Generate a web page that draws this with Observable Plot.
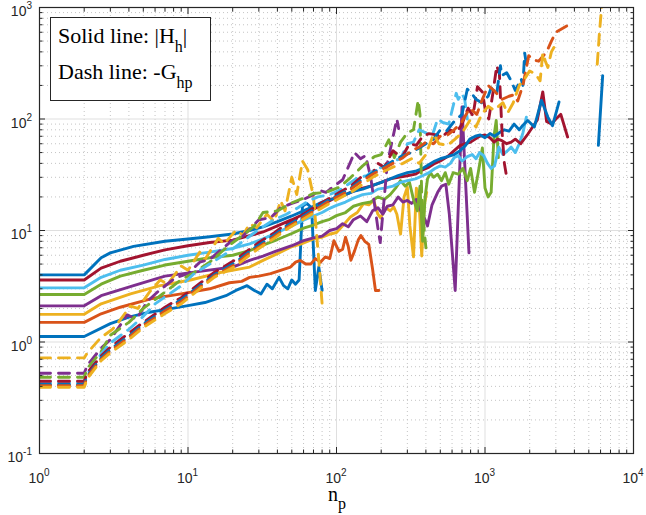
<!DOCTYPE html>
<html><head><meta charset="utf-8">
<script src="https://cdn.jsdelivr.net/npm/d3@7"></script>
<script src="https://cdn.jsdelivr.net/npm/@observablehq/plot@0.6"></script>
<style>body{margin:0;background:#fff}</style>
</head><body><div id="chart"></div>
<script>
const xMajor = [1, 10, 100, 1000, 10000];
const yMajor = [0.1, 1, 10, 100, 1000];
const xExp = ["0", "1", "2", "3", "4"];
const yExp = ["-1", "0", "1", "2", "3"];
const legendLines = [["Solid line: |H", "h", "|"], ["Dash line: -G", "hp", ""]];
const xLabel = ["n", "p"];
const colors = ["#0072BD", "#D95319", "#EDB120", "#7E2F8E", "#77AC30", "#4DBEEE", "#A2142F"];

// solid lines |H_h|
const solid1 = [[1,1.12],[2,1.12],[3,1.46],[4,1.67],[5.5,1.85],[7.5,1.98],[10,2.12],[13,2.26],[18,2.6],[21,2.9],[25,3.2],[28,2.9],[31,2.7],[34,3.3],[37,3.0],[41,3.8],[44,3.2],[47,3.0],[50,3.6],[53,3.3],[56,3.6],[59,16.5],[63,17.5],[68,16],[72,2.9],[76,4.7],[80,2.9]];
const solid2 = [[1,1.5],[2,1.5],[2.6,1.79],[3.5,2.05],[5.6,2.44],[9,2.7],[14,3.0],[19,3.4],[23,3.5],[26,3.8],[30,3.9],[36,4.1],[42,4.4],[49,4.7],[53,5.2],[57,5.4],[62,5.0],[67,5.0],[72,5.6],[78,5.2],[84,5.8],[90,5.6],[96,8.1],[104,6.5],[110,6.8],[115,8.7],[120,7.2],[125,5.4],[132,6.5],[140,8.2],[146,9.0],[155,8.0],[165,7.5],[175,4.5],[183,2.9],[193,2.9]];
const solid3 = [[1,1.77],[2,1.77],[2.6,2.2],[4.1,2.7],[6.5,3.2],[10.4,3.6],[16.5,4.2],[22,4.5],[26,4.7],[32,5.4],[40,6.2],[49,7.1],[58,7.6],[70,8.4],[80,8.7],[91,9.3],[100,9.6],[110,11],[124,13.2],[138,14.5],[152,17.4],[165,17],[178,18.6],[190,14],[198,13],[215,16],[230,15],[243,16.3],[255,14],[270,9.3],[285,20],[300,24.5],[312,11],[330,5.8],[345,24],[360,18],[375,5.9],[390,17],[405,22]];
const solid4 = [[1,2.11],[2,2.11],[2.6,2.6],[4.3,3.2],[7,3.9],[12,4.3],[20,4.7],[26,5.4],[32,5.9],[40,6.6],[50,7.3],[60,8.1],[70,8.6],[80,8.9],[90,10],[100,10.4],[110,11.5],[120,10.8],[130,12.5],[145,13.5],[160,12],[175,15],[190,16],[205,14],[220,16.5],[240,17],[260,20],[280,18],[300,18.6],[320,17.5],[345,19],[370,15],[390,13],[410,11],[440,17],[480,22],[510,25],[545,26],[575,14],[630,2.9],[700,128],[780,6.3]];
const solid5 = [[1,2.67],[2,2.67],[2.6,3.3],[3.5,3.9],[5,4.4],[7,4.9],[10,5.3],[14,5.7],[20,6.0],[26,6.6],[32,7.4],[40,8.3],[50,9.4],[60,10.5],[70,11.2],[80,12],[90,12.6],[100,13.6],[115,14.5],[130,16.5],[150,17.5],[170,18],[190,20],[210,19],[230,21],[250,24],[270,28],[290,25],[310,27],[330,19],[350,15],[365,25],[380,8],[395,20],[410,29],[430,33],[450,30],[480,32],[510,28],[540,33],[570,26],[610,33],[660,32],[710,36],[760,28],[800,36],[850,22],[900,33],[960,55],[1000,24],[1050,20],[1100,22],[1150,70],[1190,97],[1230,45]];
const solid6 = [[1,3.06],[2,3.06],[2.6,3.8],[3.5,4.4],[5,4.9],[7,5.5],[10,6.0],[14,6.4],[20,6.9],[26,7.6],[32,8.4],[40,9.6],[50,11],[60,12.4],[70,13.5],[80,14.5],[90,15.8],[100,16.8],[115,18],[130,19.5],[150,21],[170,21.5],[190,23.5],[210,24],[240,25],[270,27],[300,28],[340,29],[380,31],[420,33],[460,36],[500,38],[540,37],[585,40],[620,45],[660,47],[700,42],[760,46],[820,48],[870,44],[920,50],[980,47],[1040,40],[1100,36],[1160,38],[1240,56],[1320,48],[1420,52],[1500,56],[1600,50],[1700,60],[1800,75],[1900,104]];
const solid7 = [[1,3.6],[2,3.6],[2.6,4.6],[3.5,5.3],[5,6.0],[7,6.7],[10,7.3],[14,7.8],[20,8.2],[26,9.0],[32,9.7],[40,11],[50,12.5],[60,14],[70,15.5],[80,17],[90,18.5],[100,20],[115,21],[130,22.5],[150,24],[170,25],[200,27],[230,29],[260,30],[300,31],[340,32],[380,35],[420,37],[460,40],[500,42],[560,46],[620,52],[680,58],[740,60],[800,62],[860,66],[920,70],[1000,72],[1080,68],[1150,62],[1220,66],[1300,64],[1400,60],[1500,62],[1600,66],[1740,60],[1940,73],[2250,98],[2450,175],[2600,95],[2800,90],[3000,100],[3240,110],[3600,69]];
const solid8 = [[1,4.0],[2,4.0],[2.6,5.7],[3,6.3],[4.3,7.2],[7,8.0],[10,8.4],[14,8.8],[20,9.3],[26,10],[32,10.8],[40,12],[50,13.5],[60,15],[70,16.5],[80,18],[90,19],[100,19.5],[115,21],[130,22.5],[150,23.5],[170,25],[200,27],[230,29],[260,31],[300,33],[340,34],[380,36],[420,39],[460,42],[500,44],[560,46],[620,48],[680,52],[740,58],[790,66],[860,70],[930,72],[1000,68],[1080,74],[1160,70],[1260,76],[1350,80],[1450,78],[1570,90],[1700,80],[1800,88],[1940,97],[2150,85],[2400,147],[2650,104],[2850,87],[3150,142],[4500,NaN],[5800,58],[6200,245]];

// dashed lines -G_hp
const dash1 = [[1,0.72],[2,0.72],[2.1,0.8],[2.6,1.1],[3.1,1.3],[3.4,1.5],[4.1,2.1],[4.6,2.0],[5.5,2.8],[6.5,3.6],[7.3,3.3],[9,4.8],[10,4.4],[12,6.4],[13,5.5],[16,8.5],[17.5,7.6],[21,10],[23.5,9.1],[26,11.5],[29,10.6],[34,14],[38,12],[42,18.5],[45,15],[50,30],[54,21],[59,42],[64,35],[70,20],[76,5.4],[80,2.2]];
const dash2 = [[1,0.525],[2,0.525],[2.1,0.62],[2.6,0.88],[3,1.05],[3.9,1.75],[4.5,1.6],[5.3,2.3],[6.4,2.9],[8.2,3.75],[10,4.1],[12,5.2],[14,5.5],[19.5,8],[23,8.7],[30,12.5],[36,13],[42,16],[50,17.5],[60,19],[70,21],[76,23],[85,22],[100,26],[110,28.5],[125,42],[132,50],[145,44],[157,47],[170,30],[190,10.5],[197,7.8],[220,40],[255,100],[262,82]];
const dash3 = [[1,0.483],[2,0.483],[2.1,0.58],[2.6,0.82],[3,1.15],[4,1.5],[5,2.0],[6.5,2.6],[8.7,3.5],[11,4.2],[14,5.2],[18.5,7.2],[24,9.3],[28,11],[32,14.5],[40,15],[49,17.5],[60,19.5],[70,21.5],[85,22],[105,24.5],[125,30],[150,38],[180,46],[200,48],[225,65],[245,45],[270,62],[300,75],[330,80],[355,147],[365,110],[375,20],[390,10],[400,7]];
const dash4 = [[1,0.433],[2,0.433],[2.1,0.52],[2.6,0.78],[3,0.98],[4,1.3],[5,1.7],[6,2.2],[7.5,2.7],[9,3.2],[11,4.1],[14,5.0],[19,6.5],[24,8.2],[30,10.2],[38,12.5],[46,14],[55,16],[65,18.5],[75,20],[90,21],[105,23],[120,26],[140,30],[160,31],[185,36],[210,37],[240,42],[270,44],[300,60],[330,62],[360,80],[400,75],[440,70],[480,100],[520,93],[570,90],[640,170],[660,150],[700,170],[730,150],[760,100]];
const dash5 = [[1,0.445],[2,0.445],[2.1,0.53],[2.6,0.75],[3,0.9],[4,1.2],[5,1.5],[7,2.05],[9,2.5],[12,3.35],[15,4.2],[21,5.5],[26,6.8],[30,7.8],[38,9.5],[46,11.5],[55,13],[65,15],[75,17],[90,19.5],[105,22],[125,25],[150,31],[170,30],[190,40],[210,37],[240,52],[275,45],[310,60],[345,58],[380,70],[420,74],[470,72],[520,70],[580,80],[640,75],[700,90],[770,125],[830,107],[890,195],[960,175],[1010,115],[1060,100],[1130,170],[1200,300],[1250,255],[1300,80],[1350,40],[1400,30]];
const dash6 = [[1,0.416],[2,0.416],[2.1,0.5],[2.6,0.72],[3,0.86],[4,1.13],[5,1.45],[7,1.95],[9,2.4],[12,3.2],[15,4.0],[21,5.2],[26,6.5],[30,7.4],[38,9.1],[46,11],[55,12.5],[65,14.5],[75,16.3],[90,19],[105,21],[125,24],[150,29],[175,33],[200,36],[240,42],[280,47],[320,50],[360,55],[400,60],[450,66],[500,80],[550,78],[620,95],[700,110],[760,185],[800,175],[870,150],[950,140],[1050,160],[1100,190],[1200,170],[1270,300],[1300,245],[1400,260],[1500,220],[1600,180],[1750,230],[1800,200],[1850,390],[1900,310]];
const dash7 = [[1,0.405],[2,0.405],[2.1,0.49],[2.6,0.7],[3,0.83],[4,1.1],[5,1.4],[7,1.9],[9,2.3],[12,3.1],[15,3.9],[21,5.0],[26,6.3],[30,7.1],[38,8.8],[46,10.6],[55,12.2],[65,14],[75,15.8],[90,18.5],[105,20.5],[125,23.5],[150,28],[175,32],[200,35],[240,40],[280,45],[320,52],[360,56],[400,62],[450,60],[500,70],[560,72],[620,80],[700,95],[790,125],[880,110],[960,150],[1050,200],[1150,180],[1300,150],[1450,160],[1570,165],[1660,145],[1800,200],[1970,370],[2100,340],[2300,330],[2600,400],[2800,500],[3000,600],[3600,690]];
const dash8 = [[1,0.393],[2,0.393],[2.1,0.47],[2.6,0.68],[3,0.8],[4,1.05],[5,1.35],[7,1.8],[9,2.2],[12,3.0],[15,3.8],[21,4.8],[26,6.0],[30,6.9],[38,8.5],[46,10.2],[55,11.8],[65,13.5],[75,15.2],[90,17.5],[105,19.5],[125,22],[150,26],[175,30],[200,33],[240,37],[280,40],[320,44],[360,40],[400,48],[450,73],[490,60],[560,58],[620,65],[700,75],[790,97],[870,85],[950,110],[1050,130],[1150,120],[1320,140],[1420,113],[1550,140],[1700,200],[1850,230],[2000,270],[2200,250],[2350,220],[2450,390],[2550,330],[2650,290],[2800,400],[3000,470],[3100,440],[4500,NaN],[5700,310],[5900,600],[6200,1300]];

const solids = [[solid1,0],[solid2,1],[solid3,2],[solid4,3],[solid5,4],[solid6,5],[solid7,6],[solid8,0]];
const dashes = [[dash1,2],[dash2,3],[dash3,4],[dash4,5],[dash5,6],[dash6,0],[dash7,1],[dash8,2]];

const xMinor = xMajor.slice(0, -1).flatMap(d => [2,3,4,5,6,7,8,9].map(k => k * d));
const yMinor = yMajor.slice(0, -1).flatMap(d => [2,3,4,5,6,7,8,9].map(k => k * d));

const axisColor = "#262626";
const tickMarks = [];
for (const anchor of ["bottom", "top"]) {
  tickMarks.push(Plot.axisX({anchor, ticks: xMajor, tickSize: -6, tickFormat: () => "", stroke: axisColor, label: null}));
  tickMarks.push(Plot.axisX({anchor, ticks: xMinor, tickSize: -3.5, tickFormat: () => "", stroke: axisColor, label: null}));
}
for (const anchor of ["left", "right"]) {
  tickMarks.push(Plot.axisY({anchor, ticks: yMajor, tickSize: -6, tickFormat: () => "", stroke: axisColor, label: null}));
  tickMarks.push(Plot.axisY({anchor, ticks: yMinor, tickSize: -3.5, tickFormat: () => "", stroke: axisColor, label: null}));
}

const lineMarks = [];
for (const [s, c] of solids) {
  lineMarks.push(Plot.line(s, {x: d => d[0], y: d => d[1], stroke: colors[c], strokeWidth: 2.9, clip: true, strokeLinejoin: "round"}));
}
for (const [s, c] of dashes) {
  lineMarks.push(Plot.line(s, {x: d => d[0], y: d => d[1], stroke: colors[c], strokeWidth: 2.9, strokeDasharray: "11,8", clip: true, strokeLinejoin: "round"}));
}

const chart = Plot.plot({
  width: 646, height: 515,
  marginLeft: 39, marginRight: 13, marginTop: 7, marginBottom: 62,
  x: {type: "log", domain: [1, 10000], axis: null},
  y: {type: "log", domain: [0.1, 1000], axis: null},
  style: {background: "#fff"},
  marks: [
    Plot.ruleX(xMinor, {stroke: "#c4c4c4", strokeWidth: 1, strokeDasharray: "1,3"}),
    Plot.ruleY(yMinor, {stroke: "#c4c4c4", strokeWidth: 1, strokeDasharray: "1,3"}),
    Plot.ruleX(xMajor, {stroke: "#dfdfdf", strokeWidth: 1}),
    Plot.ruleY(yMajor, {stroke: "#dfdfdf", strokeWidth: 1}),
    ...lineMarks,
    ...tickMarks,
    Plot.frame({stroke: axisColor, strokeWidth: 1.2})
  ]
});
document.getElementById("chart").appendChild(chart);

const svg = d3.select(chart);
const sx = chart.scale("x"), sy = chart.scale("y");
const sans = "'Liberation Sans', Arial, Helvetica, sans-serif";
const serif = "'Liberation Serif', 'Times New Roman', serif";

xMajor.forEach((v, i) => {
  const t = svg.append("text").attr("x", sx.apply(v)).attr("y", 483)
    .attr("text-anchor", "middle").attr("font-family", sans).attr("font-size", 14).attr("fill", axisColor);
  t.append("tspan").text("10");
  t.append("tspan").attr("dy", -7).attr("font-size", 10).text(xExp[i]);
});
yMajor.forEach((v, i) => {
  const t = svg.append("text").attr("x", 32).attr("y", sy.apply(v) + 9)
    .attr("text-anchor", "end").attr("font-family", sans).attr("font-size", 14).attr("fill", axisColor);
  t.append("tspan").text("10");
  t.append("tspan").attr("dy", -7).attr("font-size", 10).text(yExp[i]);
});

// legend box
svg.append("rect").attr("x", 50.5).attr("y", 17.5).attr("width", 160).attr("height", 83)
  .attr("fill", "#fff").attr("stroke", axisColor).attr("stroke-width", 1);
legendLines.forEach((ln, i) => {
  const t = svg.append("text").attr("x", 58).attr("y", 43 + i * 36).attr("text-anchor", "start")
    .attr("font-family", serif).attr("font-size", 22).attr("fill", "#000");
  t.append("tspan").text(ln[0]);
  t.append("tspan").attr("dy", 9).attr("font-size", 16).text(ln[1]);
  if (ln[2]) t.append("tspan").attr("dy", -9).attr("font-size", 22).text(ln[2]);
});

// x label
const xl = svg.append("text").attr("x", 337).attr("y", 501).attr("text-anchor", "middle")
  .attr("font-family", serif).attr("font-size", 20).attr("fill", "#000");
xl.append("tspan").text(xLabel[0]);
xl.append("tspan").attr("dy", 8).attr("font-size", 16).text(xLabel[1]);
</script>
</body></html>
